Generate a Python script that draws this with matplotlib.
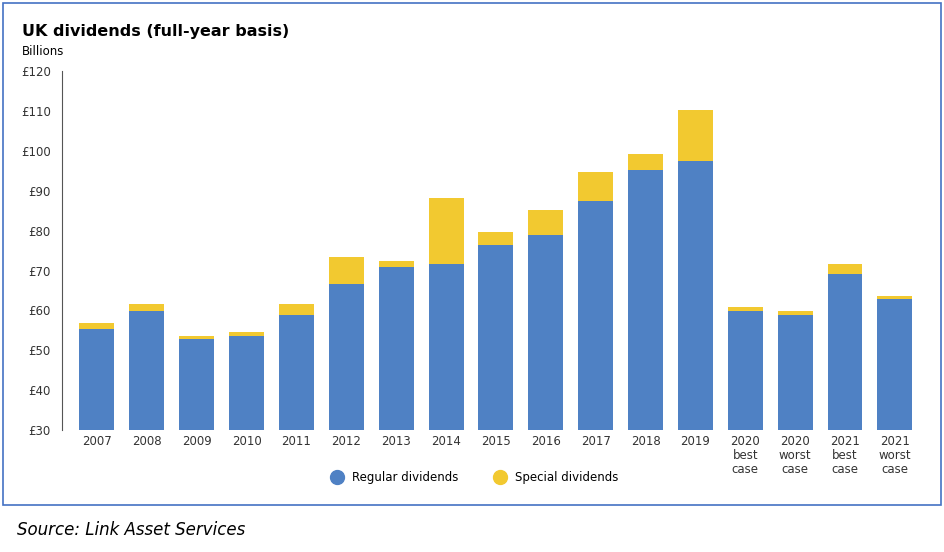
import matplotlib
matplotlib.use("Agg")
import matplotlib.pyplot as plt
from matplotlib.patches import Rectangle
from matplotlib.lines import Line2D

categories = ["2007","2008","2009","2010","2011","2012","2013","2014","2015","2016",
              "2017","2018","2019","2020\nbest\ncase","2020\nworst\ncase","2021\nbest\ncase","2021\nworst\ncase"]
regular = [55.3,59.9,52.8,53.5,58.9,66.7,71.0,71.6,76.3,78.8,87.4,95.2,97.4,59.9,58.9,69.1,62.9]
total   = [56.9,61.6,53.6,54.5,61.6,73.3,72.5,88.2,79.6,85.2,94.7,99.2,110.2,60.9,59.9,71.7,63.7]
special = [t - r for t, r in zip(total, regular)]
yticks = [30,40,50,60,70,80,90,100,110,120]

blue = "#4F81C4"; yellow = "#F2C930"
fig = plt.figure(figsize=(9.44,5.52), dpi=100)
ax = fig.add_axes([0.0657, 0.221, 0.914, 0.65])
x = range(len(categories))
ax.bar(x, [r-30 for r in regular], bottom=30, width=0.7, color=blue)
ax.bar(x, special, bottom=regular, width=0.7, color=yellow)
ax.set_ylim(30,120)
ax.set_xlim(-0.7, len(categories)-0.4)
ax.set_yticks(yticks)
ax.set_yticklabels([f"£{v}" for v in yticks], fontsize=8.5, color="#333333")
ax.set_xticks(list(x))
ax.set_xticklabels(categories, fontsize=8.5, color="#333333", linespacing=1.1)
for s in ["top","right","bottom"]:
    ax.spines[s].set_visible(False)
ax.spines["left"].set_color("#555555")
ax.tick_params(axis="both", length=0)
ax.tick_params(axis="y", pad=8)

fig.text(0.023, 0.935, "UK dividends (full-year basis)", fontsize=11.5, fontweight="bold")
fig.text(0.023, 0.9, "Billions", fontsize=8.5)
handles = [Line2D([],[],marker="o",ls="",markersize=10,color=blue),
           Line2D([],[],marker="o",ls="",markersize=10,color=yellow)]
fig.legend(handles, ["Regular dividends","Special dividends"], loc="center",
           bbox_to_anchor=(0.5, 0.135), ncol=2, frameon=False, fontsize=8.5,
           handletextpad=0.3, columnspacing=2.5)
fig.patches.append(Rectangle((0.003,0.085),0.994,0.91, transform=fig.transFigure,
                             fill=False, edgecolor="#4472C4", linewidth=1.2))
fig.text(0.018, 0.03, "Source: Link Asset Services", fontsize=12, style="italic")
fig.savefig("out.png", dpi=100)
